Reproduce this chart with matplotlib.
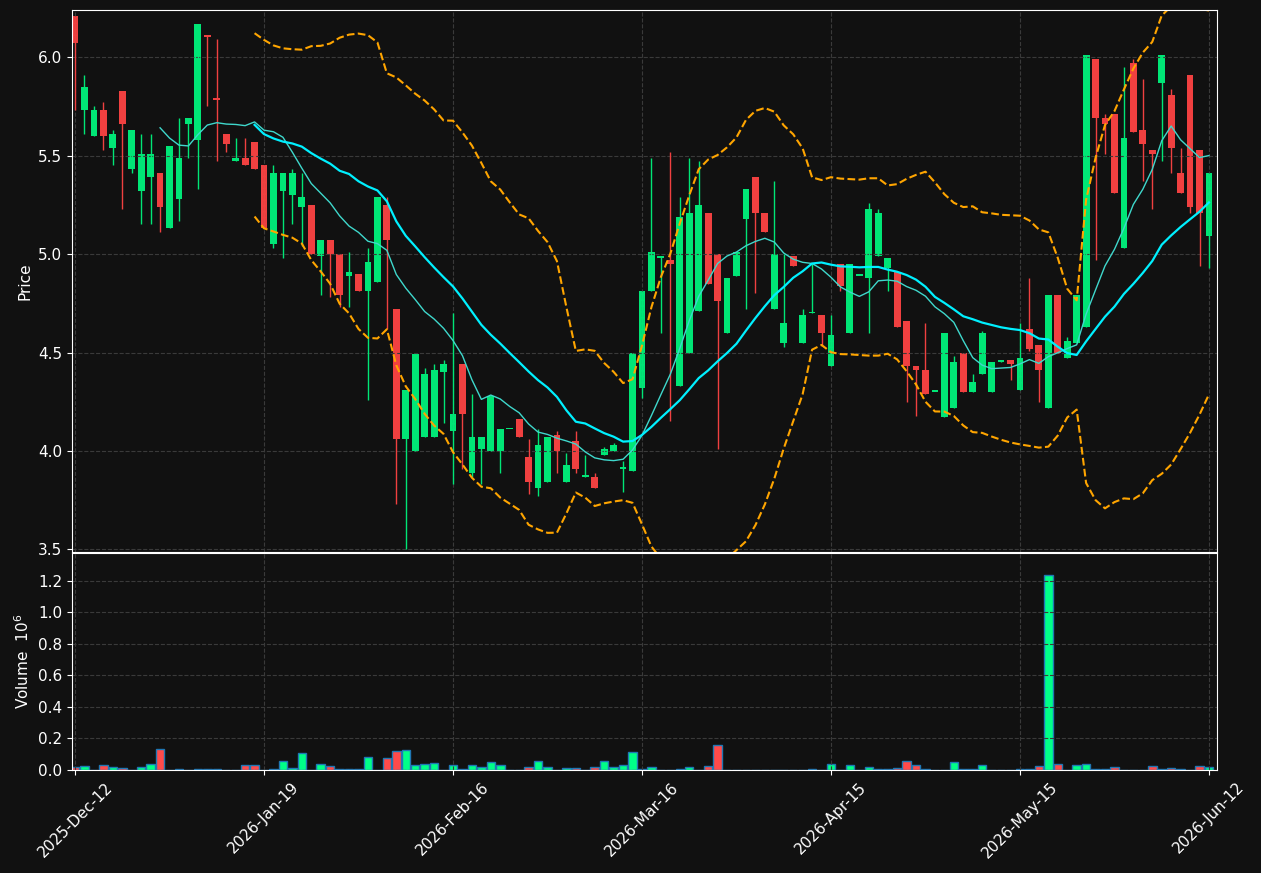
import numpy as np
import pandas as pd
import matplotlib
matplotlib.use("Agg")
import matplotlib.pyplot as plt

# daily OHLC
opens = [6.21, 5.73, 5.60, 5.73, 5.54, 5.83, 5.43, 5.32, 5.39, 5.41,
         5.13, 5.28, 5.66, 5.58, 6.11, 5.79, 5.61, 5.47, 5.49, 5.57,
         5.45, 5.05, 5.32, 5.30, 5.24, 5.25, 4.99, 5.07, 5.00, 4.89,
         4.90, 4.81, 4.86, 5.25, 4.72, 4.06, 4.00, 4.07, 4.07, 4.40,
         4.10, 4.44, 3.89, 4.01, 4.00, 4.00, 4.11, 4.16, 3.97, 3.81,
         3.84, 4.08, 3.84, 4.05, 3.87, 3.87, 3.98, 4.00, 3.91, 3.90,
         4.32, 4.81, 4.98, 4.97, 4.33, 4.50, 4.71, 5.21, 5.00, 4.60,
         4.89, 5.18, 5.39, 5.21, 4.72, 4.55, 4.99, 4.55, 4.70, 4.69,
         4.43, 4.95, 4.60, 4.89, 4.88, 4.99, 4.93, 4.91, 4.66, 4.43,
         4.41, 4.30, 4.17, 4.22, 4.50, 4.30, 4.39, 4.30, 4.45, 4.46,
         4.31, 4.62, 4.54, 4.22, 4.79, 4.47, 4.55, 4.63, 5.99, 5.69,
         5.71, 5.03, 5.97, 5.63, 5.53, 5.87, 5.81, 5.41, 5.91, 5.53,
         5.09]
closes = [6.07, 5.85, 5.73, 5.60, 5.61, 5.66, 5.63, 5.51, 5.51, 5.24,
          5.55, 5.49, 5.69, 6.17, 6.10, 5.78, 5.56, 5.49, 5.45, 5.43,
          5.13, 5.41, 5.41, 5.41, 5.29, 5.00, 5.07, 5.00, 4.79, 4.91,
          4.81, 4.96, 5.29, 5.07, 4.06, 4.31, 4.49, 4.39, 4.41, 4.44,
          4.19, 4.19, 4.07, 4.07, 4.28, 4.11, 4.11, 4.07, 3.84, 4.03,
          4.07, 4.00, 3.93, 3.91, 3.88, 3.81, 4.01, 4.03, 3.91, 4.50,
          4.81, 5.01, 4.99, 4.95, 5.19, 5.21, 5.25, 4.85, 4.76, 4.88,
          5.01, 5.33, 5.21, 5.11, 5.00, 4.65, 4.94, 4.69, 4.70, 4.60,
          4.59, 4.84, 4.95, 4.89, 5.23, 5.21, 4.98, 4.63, 4.43, 4.41,
          4.29, 4.30, 4.60, 4.45, 4.30, 4.35, 4.60, 4.45, 4.46, 4.44,
          4.47, 4.52, 4.41, 4.79, 4.50, 4.56, 4.79, 6.01, 5.69, 5.66,
          5.31, 5.59, 5.62, 5.56, 5.51, 6.01, 5.54, 5.31, 5.24, 5.21,
          5.41]
highs = [6.21, 5.91, 5.75, 5.77, 5.63, 5.83, 5.63, 5.61, 5.61, 5.41,
         5.55, 5.69, 5.69, 6.17, 6.11, 6.09, 5.61, 5.59, 5.59, 5.57,
         5.45, 5.45, 5.41, 5.43, 5.41, 5.25, 5.07, 5.07, 5.00, 5.01,
         4.90, 5.03, 5.29, 5.29, 4.72, 4.31, 4.49, 4.42, 4.44, 4.46,
         4.70, 4.44, 4.29, 4.07, 4.28, 4.11, 4.11, 4.16, 4.06, 4.11,
         4.07, 4.10, 3.99, 4.10, 3.98, 3.89, 4.02, 4.04, 3.95, 4.50,
         4.81, 5.49, 4.99, 5.52, 5.29, 5.49, 5.47, 5.21, 5.00, 4.88,
         5.01, 5.33, 5.39, 5.21, 5.37, 5.00, 4.99, 4.72, 4.95, 4.69,
         4.69, 4.95, 4.95, 4.89, 5.26, 5.23, 4.98, 4.91, 4.66, 4.43,
         4.65, 4.30, 4.60, 4.48, 4.50, 4.39, 4.61, 4.45, 4.46, 4.46,
         4.65, 4.88, 4.54, 4.79, 4.79, 4.58, 4.79, 6.01, 5.99, 5.71,
         5.71, 5.95, 5.99, 5.89, 5.53, 6.01, 5.84, 5.54, 5.91, 5.53,
         5.41]
lows = [5.73, 5.61, 5.60, 5.53, 5.45, 5.23, 5.41, 5.15, 5.15, 5.11,
        5.13, 5.17, 5.49, 5.33, 5.75, 5.47, 5.52, 5.47, 5.45, 5.43,
        5.13, 5.03, 4.98, 5.15, 5.04, 5.00, 4.79, 4.78, 4.73, 4.73,
        4.81, 4.26, 4.86, 4.62, 3.73, 3.50, 4.00, 4.07, 4.07, 4.14,
        3.83, 3.91, 3.87, 3.83, 4.00, 3.89, 4.11, 4.07, 3.78, 3.77,
        3.84, 3.89, 3.84, 3.89, 3.87, 3.81, 3.98, 4.00, 3.79, 3.90,
        4.27, 4.81, 4.60, 4.15, 4.33, 4.50, 4.71, 4.85, 4.01, 4.60,
        4.89, 4.72, 4.80, 5.11, 4.72, 4.53, 4.94, 4.55, 4.70, 4.54,
        4.43, 4.81, 4.60, 4.89, 4.60, 4.99, 4.81, 4.63, 4.25, 4.18,
        4.29, 4.30, 4.17, 4.22, 4.30, 4.30, 4.39, 4.30, 4.45, 4.36,
        4.31, 4.51, 4.25, 4.22, 4.50, 4.47, 4.55, 4.63, 4.97, 5.51,
        5.31, 5.03, 5.62, 5.37, 5.23, 5.47, 5.41, 5.31, 5.21, 4.94,
        4.93]
volumes = [0.021, 0.028, 0.003, 0.034, 0.021, 0.015, 0.003, 0.021, 0.040, 0.136,
           0.003, 0.008, 0.003, 0.008, 0.008, 0.008, 0.003, 0.003, 0.030, 0.030,
           0.002, 0.008, 0.055, 0.015, 0.110, 0.003, 0.040, 0.028, 0.008, 0.008,
           0.008, 0.085, 0.003, 0.079, 0.120, 0.124, 0.034, 0.040, 0.047, 0.003,
           0.034, 0.008, 0.034, 0.021, 0.053, 0.034, 0.002, 0.002, 0.021, 0.060,
           0.021, 0.003, 0.015, 0.015, 0.003, 0.021, 0.060, 0.021, 0.034, 0.117,
           0.008, 0.021, 0.003, 0.003, 0.008, 0.021, 0.003, 0.028, 0.160, 0.002,
           0.002, 0.003, 0.003, 0.002, 0.003, 0.003, 0.002, 0.002, 0.008, 0.003,
           0.040, 0.002, 0.034, 0.002, 0.021, 0.008, 0.008, 0.015, 0.060, 0.034,
           0.008, 0.002, 0.002, 0.053, 0.008, 0.008, 0.034, 0.003, 0.003, 0.002,
           0.008, 0.008, 0.028, 1.240, 0.040, 0.003, 0.034, 0.040, 0.008, 0.008,
           0.021, 0.003, 0.003, 0.003, 0.028, 0.008, 0.015, 0.008, 0.003, 0.028,
           0.021]
tick_labels = ["2025-Dec-12", "2026-Jan-19", "2026-Feb-16", "2026-Mar-16",
               "2026-Apr-15", "2026-May-15", "2026-Jun-12"]

df = pd.DataFrame({"o": opens, "h": highs, "l": lows, "c": closes, "v": volumes})
x = np.arange(len(df))
up = df["c"] >= df["o"]

ma10 = df["c"].rolling(10).mean()
ma20 = df["c"].rolling(20).mean()
sd20 = df["c"].rolling(20).std(ddof=0)

bg = "#111111"
green = "#00e676"
red = "#f04040"

fig = plt.figure(figsize=(12.61, 8.73), dpi=100, facecolor=bg)
ax = fig.add_axes([0.0571, 0.3677, 0.908, 0.6208])
axv = fig.add_axes([0.0571, 0.118, 0.908, 0.2486], sharex=ax)

for a in (ax, axv):
    a.set_facecolor(bg)
    a.grid(True, color="#3a3a3a", linestyle="--", linewidth=0.8)
    for s in a.spines.values():
        s.set_color("white")
    a.tick_params(colors="white", labelsize=11)

cols = np.where(up, green, red)
ax.vlines(x, df["l"], df["h"], colors=cols, linewidth=1)
body_lo = np.minimum(df["o"], df["c"])
body_h = np.maximum(np.abs(df["c"] - df["o"]), 0.008)
ax.bar(x, body_h, bottom=body_lo, width=0.72, color=cols, linewidth=0)

ax.plot(x, ma10, color="#3fd8cc", linewidth=1)
ax.plot(x, ma20, color="#00f0ff", linewidth=1.6)
ax.plot(x, ma20 + 2 * sd20, color="orange", linestyle="--", linewidth=1.5)
ax.plot(x, ma20 - 2 * sd20, color="orange", linestyle="--", linewidth=1.5)

ax.set_ylim(3.487, 6.239)
ax.set_yticks([3.5, 4.0, 4.5, 5.0, 5.5, 6.0])
ax.set_ylabel("Price", color="white", fontsize=11)
ax.tick_params(labelbottom=False)

vcols = np.where(up, "#00ff88", "#ff4a4a")
axv.bar(x, df["v"], width=0.9, color=vcols, edgecolor="#1f77b4", linewidth=1)
axv.set_ylim(0, 1.378)
axv.set_yticks([0.0, 0.2, 0.4, 0.6, 0.8, 1.0, 1.2])
axv.set_ylabel("Volume  $10^{6}$", color="white", fontsize=11)

axv.set_xlim(-0.32, 120.85)
axv.set_xticks(np.arange(0, 121, 20))
axv.set_xticklabels(tick_labels, rotation=45, ha="center")

fig.savefig("out.png", dpi=100, facecolor=bg)
